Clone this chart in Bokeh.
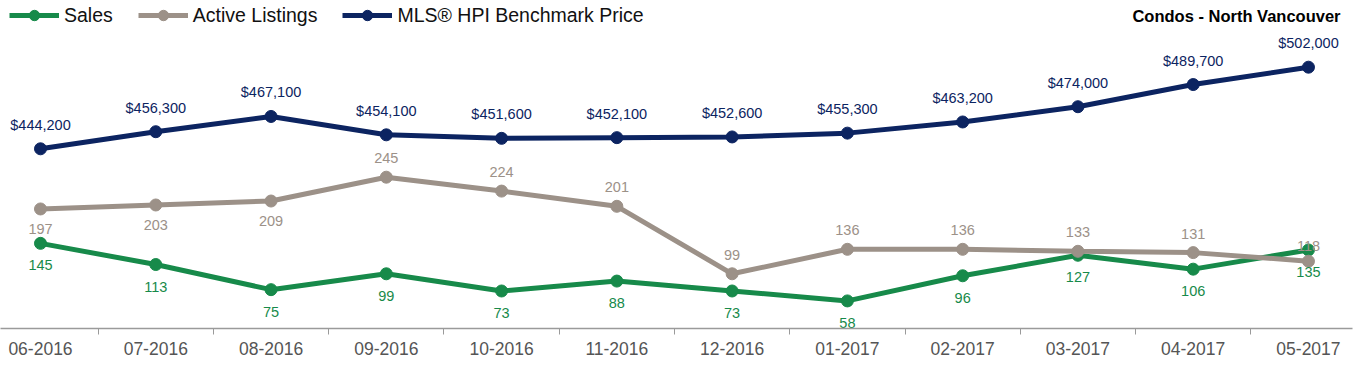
from bokeh.plotting import figure
from bokeh.models import (ColumnDataSource, Range1d, FixedTicker, Legend, LegendItem,
                          Label)
from bokeh.core.properties import value
from bokeh.embed import file_html
from bokeh.resources import INLINE

months = ["06-2016", "07-2016", "08-2016", "09-2016", "10-2016", "11-2016",
          "12-2016", "01-2017", "02-2017", "03-2017", "04-2017", "05-2017"]
sales = [145, 113, 75, 99, 73, 88, 73, 58, 96, 127, 106, 135]
active = [197, 203, 209, 245, 224, 201, 99, 136, 136, 133, 131, 118]
hpi = [444200, 456300, 467100, 454100, 451600, 452100, 452600, 455300,
       463200, 474000, 489700, 502000]

GREEN = "#178a4a"
GRAY = "#9c9188"
NAVY = "#0c2461"
FONT = "Liberation Sans"

x = list(range(len(months)))

p = figure(width=1365, height=365, output_backend="svg", toolbar_location=None,
           x_range=Range1d(-0.347, 11.382), y_range=Range1d(16.3, 512.1),
           min_border_left=0, min_border_right=13, min_border_top=0,
           min_border_bottom=37)
p.extra_y_ranges = {"price": Range1d(316934, 549228)}
p.outline_line_color = None
p.xgrid.visible = False
p.ygrid.visible = False
p.yaxis.visible = False

xa = p.xaxis[0]
xa.ticker = FixedTicker(ticks=x, minor_ticks=[i + 0.5 for i in range(len(months) - 1)])
xa.major_label_overrides = {i: m for i, m in enumerate(months)}
xa.major_tick_line_color = None
xa.minor_tick_line_color = "#9a9a9a"
xa.minor_tick_out = 6
xa.minor_tick_in = 0
xa.axis_line_color = "#9a9a9a"
xa.axis_line_width = 1.5
xa.major_label_text_font = FONT
xa.major_label_text_font_size = "17.5px"
xa.major_label_text_color = "#555555"
xa.major_label_standoff = 7

src = ColumnDataSource(dict(
    x=x, sales=sales, active=active, hpi=hpi,
    sales_t=[str(v) for v in sales],
    active_t=[str(v) for v in active],
    hpi_t=[f"${v:,}" for v in hpi],
    active_off=[20 if i < 3 else (-15 if i == len(active) - 1 else -19)
                for i in range(len(active))],
))

gl = p.line("x", "sales", source=src, line_color=GREEN, line_width=5)
gc = p.scatter("x", "sales", source=src, size=12, fill_color=GREEN, line_color=GREEN)
al = p.line("x", "active", source=src, line_color=GRAY, line_width=5)
ac = p.scatter("x", "active", source=src, size=12, fill_color=GRAY, line_color=GRAY)
hl = p.line("x", "hpi", source=src, line_color=NAVY, line_width=5, y_range_name="price")
hc = p.scatter("x", "hpi", source=src, size=12, fill_color=NAVY, line_color=NAVY,
               y_range_name="price")

p.text("x", "sales", text="sales_t", source=src, y_offset=22, text_align="center",
       text_baseline="middle", text_font=value(FONT), text_font_size="14.5px",
       text_color=GREEN)
p.text("x", "active", text="active_t", source=src, y_offset="active_off",
       text_align="center", text_baseline="middle", text_font=value(FONT),
       text_font_size="14.5px", text_color=GRAY)
p.text("x", "hpi", text="hpi_t", source=src, y_offset=-24, text_align="center",
       text_baseline="middle", text_font=value(FONT), text_font_size="14.5px",
       text_color=NAVY, y_range_name="price")

legend = Legend(items=[
    LegendItem(label="Sales", renderers=[gl, gc]),
    LegendItem(label="Active Listings", renderers=[al, ac]),
    LegendItem(label="MLS® HPI Benchmark Price", renderers=[hl, hc]),
], location=(9, 300), orientation="horizontal")
legend.margin = 0
legend.padding = 0
legend.spacing = 25
legend.glyph_width = 50
legend.glyph_height = 26
legend.label_height = 26
legend.label_standoff = 5
legend.label_text_font = FONT
legend.label_text_font_size = "19.5px"
legend.label_text_color = "#111111"
legend.background_fill_alpha = 0
legend.border_line_color = None
p.add_layout(legend)

title = Label(x=1340, y=313, x_units="screen", y_units="screen",
              text="Condos - North Vancouver", text_align="right",
              text_baseline="middle", text_font=FONT,
              text_font_style="bold", text_font_size="16.5px", text_color="#000000")
p.add_layout(title)

open("out.html", "w").write(file_html(p, INLINE))
